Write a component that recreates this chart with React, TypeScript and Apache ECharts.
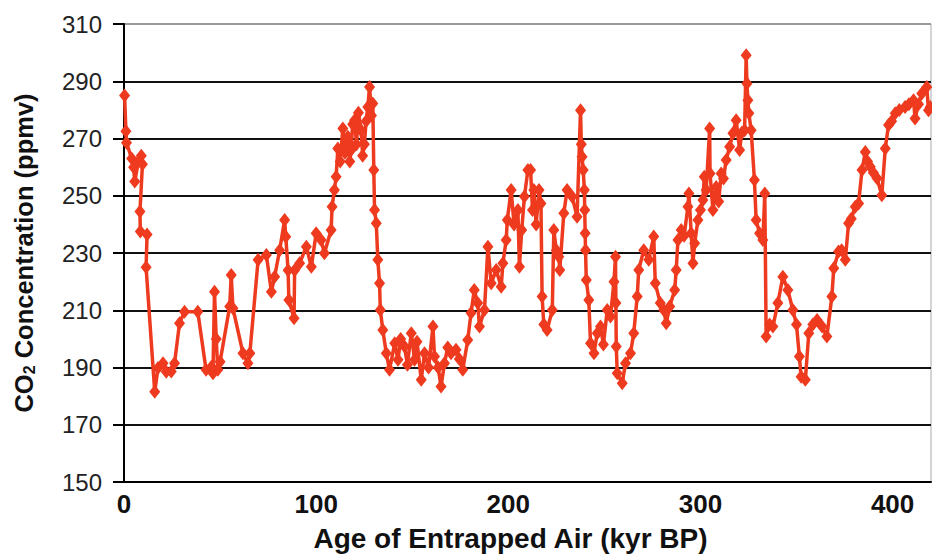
import React, { useEffect, useRef } from "react";
import * as echarts from "echarts";

// Age of entrapped air (kyr BP)
const ages: number[] = [
  0.3, 1.0, 1.3, 4.0, 5.0, 5.6, 7.5, 9.0, 9.6, 8.3, 8.5, 12.0, 11.5, 16.0,
  17.7, 20.3, 22.0, 24.6, 26.3, 28.9, 31.5, 38.4, 42.7, 45.5, 46.3, 47.1, 48.0, 48.8, 50.0, 55.0, 55.8, 56.7, 61.9, 64.5, 65.5, 69.8,
  74.1, 76.7, 78.4, 81.0, 83.6, 84.2, 85.4, 85.8, 88.5, 88.8, 91.4, 94.9, 97.5, 100.0, 102.6, 104.3, 107.8, 108.3,
  109.5, 110.4, 111.3, 112.5, 113.9, 115.0, 116.5, 117.5, 118.2, 119.0, 120.0, 121.0, 122.0, 123.4, 124.2, 125.1, 126.0, 126.9, 127.8, 128.8, 129.5,
  130.0, 130.4, 131.3, 132.1, 133.0, 133.4, 134.7, 136.5, 138.2,
  140.9, 142.6, 144.0, 146.0, 147.5, 149.5, 151.2, 152.5, 154.7, 156.4, 158.5, 160.8, 161.6, 163.5, 165.0, 166.8, 168.5, 170.2, 172.8, 174.5, 176.3,
  178.9, 180.6, 182.3, 184.1, 185.0, 187.6, 189.4, 191.1, 193.7, 196.3, 197.2, 198.9, 199.5, 201.5, 203.0, 205.0, 205.8, 207.0, 208.4, 210.2,
  211.6, 212.6, 213.3, 214.5, 216.0, 217.0, 217.6, 218.5, 220.2, 222.9, 223.7, 225.0, 226.3, 226.8, 228.9, 230.6, 233.2, 235.8,
  237.6, 238.0, 238.4, 239.0, 239.6, 239.8, 240.0, 240.2, 240.6, 241.9, 242.8, 244.6, 246.3, 248.0, 249.5, 251.5, 253.2, 255.0, 255.8, 256.0, 256.2, 256.7,
  259.3, 261.0, 263.6, 265.3, 267.1, 267.9, 270.5, 273.1, 275.7, 276.5, 279.1, 280.9,
  282.2, 284.0, 286.6, 287.4, 288.3, 290.0, 291.5, 293.5, 294.0, 295.2, 296.1, 297.0, 298.7, 300.0, 301.3, 302.0, 303.0, 304.8, 305.0, 306.5, 307.5,
  308.2, 309.5, 310.8, 312.0, 313.4, 315.2, 316.9, 318.6, 320.4, 321.5, 323.0, 323.8, 324.2, 324.7, 325.2, 326.4, 328.1, 329.0, 330.8, 332.5, 333.5,
  334.2, 336.0, 337.7, 340.3, 342.9, 345.5, 348.1, 350.0, 351.5, 352.4,
  354.6, 356.4, 358.5, 360.7, 363.3, 365.8, 368.4, 369.4, 371.9, 373.5, 375.4, 377.1, 378.5, 380.6, 382.3, 384.1, 385.8, 387.0, 388.4, 390.0,
  391.9, 394.4, 396.2, 397.9, 399.5, 401.4, 403.5, 406.5, 408.5, 410.9, 411.7, 413.5, 415.2, 417.8, 418.7, 419.6,
];

// CO2 concentration (ppmv)
const co2: number[] = [
  285, 272.5, 268.5, 263, 260, 255, 262, 264, 261, 244.5, 237.5, 236.5, 225, 181.5,
  189.8, 191.5, 188.5, 188.6, 191.5, 205.5, 209.5, 209.5, 189.2, 190.3, 188, 216.5, 200, 189.2, 192, 211.3, 222.3, 210.7, 195, 191.5, 195, 227.6,
  229.3, 216.5, 221.7, 231, 241.5, 235.7, 224, 213.6, 207.2, 224, 226.4, 232.2, 225.2, 236.9, 234.5, 229.9, 238, 246.2,
  252, 256.6, 266.5, 262, 273.5, 265, 270.6, 262, 266, 275, 276.4, 268, 279, 272.9, 264, 268, 276, 281, 288, 278, 282.2,
  259, 245, 240.4, 227.6, 219.4, 210.1, 203.1, 195, 189.2,
  198.5, 192.7, 200, 197.3, 191, 202, 192.7, 199, 185.7, 195, 190, 204.3, 193.8, 190, 183.4, 191.5, 197, 195, 196.2, 193, 189.2,
  199.6, 209, 217.1, 212.5, 204.3, 210.1, 232.2, 219.4, 224.1, 218.2, 226.4, 234.5, 241.5, 252, 240, 245, 225.2, 238, 249.7, 259,
  259, 245, 252, 240, 252, 247.3, 214.8, 205, 203.1, 210.1, 238, 231, 228.7, 224.1, 243.9, 252, 249.7, 242.7,
  279.9, 268, 263.6, 259, 252, 245, 236.9, 231, 220.6, 213.6, 198.5, 195, 202, 204.3, 198, 210.1, 207.8, 220, 228.7, 212.5, 197.3, 188,
  184.5, 191.5, 195, 202, 214.8, 224.1, 231, 227.6, 235.8, 219.4, 212.5, 210.1,
  205.5, 211.3, 217.1, 224.1, 234.5, 238, 236, 246.2, 250.8, 236.9, 226.4, 233.4, 241.5, 245, 248.5, 256.6, 252, 273.5, 257.8, 245, 250,
  253.1, 248, 257.8, 256, 262.5, 267.1, 271.8, 276.4, 266, 272, 272.9, 299.1, 289.2, 283.4, 278.8, 272.9, 255.5, 241.5, 236.9, 234.5, 250.8,
  200.8, 205, 204.3, 212.5, 221.7, 217.1, 210.1, 205, 193.8, 186.8,
  185.7, 202, 205, 206.6, 204.3, 200.8, 214.8, 224.7, 230.5, 231, 227.6, 240.4, 242, 246.2, 247.3, 259, 265.3, 262, 260.1, 258,
  256.1, 250.2, 266.5, 274.7, 276, 278.8, 280, 281, 282, 283.4, 277, 282, 285.7, 288, 279.9, 281,
];

const xMin = 0;
const xMax = 420;
const xStep = 100;
const yMin = 150;
const yMax = 310;
const yStep = 20;

const xTitle = "Age of Entrapped Air (kyr BP)";

const FONT = "'Liberation Sans', Arial, sans-serif";
const RED = "#EE3A1E";

export default function App() {
  const ref = useRef<HTMLDivElement>(null);

  useEffect(() => {
    if (!ref.current) return;
    const chart = echarts.init(ref.current, undefined, { renderer: "svg" });
    const nLines = Math.round((yMax - yMin) / yStep) + 1;
    const splitColors = Array.from({ length: nLines }, (_, i) =>
      i === nLines - 1 ? "#9a9a9a" : "#111111"
    );
    chart.setOption({
      animation: false,
      backgroundColor: "#ffffff",
      grid: {
        left: 124,
        right: 1,
        top: 24,
        bottom: 76,
        show: true,
        borderColor: "#aaaaaa",
        borderWidth: 1,
        backgroundColor: "transparent",
      },
      xAxis: {
        type: "value",
        min: xMin,
        max: xMax,
        interval: xStep,
        axisLine: { show: true, lineStyle: { color: "#000", width: 2 } },
        axisTick: { show: false },
        splitLine: { show: false },
        axisLabel: {
          showMaxLabel: false,
          fontFamily: FONT,
          fontWeight: "bold",
          fontSize: 26,
          color: "#111",
          margin: 9,
        },
        name: xTitle,
        nameLocation: "middle",
        nameGap: 42,
        nameTextStyle: {
          fontFamily: FONT,
          fontWeight: "bold",
          fontSize: 28,
          color: "#111",
          padding: [0, 34, 0, 0],
        },
      },
      yAxis: {
        type: "value",
        min: yMin,
        max: yMax,
        interval: yStep,
        axisLine: { show: true, lineStyle: { color: "#000", width: 2 } },
        axisTick: {
          show: true,
          inside: false,
          length: 11,
          lineStyle: { color: "#000", width: 2 },
        },
        splitLine: {
          show: true,
          lineStyle: { color: splitColors, width: 2 },
        },
        axisLabel: {
          fontFamily: FONT,
          fontSize: 24,
          color: "#222",
          margin: 22,
        },
        name: "{a|CO}{s|2}{a| Concentration (ppmv)}",
        nameLocation: "middle",
        nameRotate: 90,
        nameGap: 87,
        nameTextStyle: {
          rich: {
            a: {
              fontFamily: FONT,
              fontWeight: "bold",
              fontSize: 25.5,
              color: "#111",
            },
            s: {
              fontFamily: FONT,
              fontWeight: "bold",
              fontSize: 16,
              color: "#111",
              verticalAlign: "bottom",
              padding: [10, 0, 0, 0],
            },
          },
        },
      },
      series: [
        {
          type: "line",
          data: ages.map((a, i) => [a, co2[i]]),
          symbol: "diamond",
          symbolSize: [11, 14],
          lineStyle: { color: RED, width: 3.5 },
          itemStyle: { color: RED },
          clip: true,
          z: 3,
        },
      ],
    });
    return () => chart.dispose();
  }, []);

  return (
    <div
      ref={ref}
      style={{
        position: "fixed",
        left: 0,
        top: 0,
        width: 932,
        height: 558,
        background: "#fff",
      }}
    />
  );
}
